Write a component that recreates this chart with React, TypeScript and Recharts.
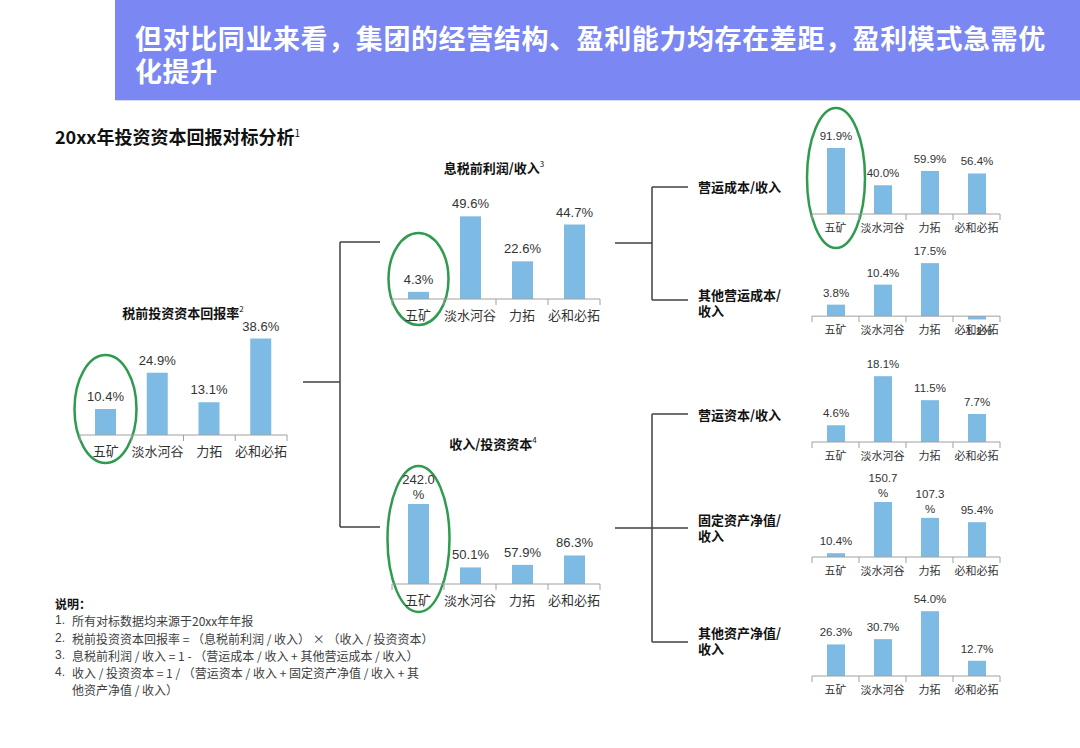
import React from "react";
import { BarChart, Bar, XAxis, YAxis, LabelList, ReferenceLine } from "recharts";

const companies = ["五矿", "淡水河谷", "力拓", "必和必拓"];

// left column
const roicValues = [10.4, 24.9, 13.1, 38.6];
// middle column
const ebitMarginValues = [4.3, 49.6, 22.6, 44.7];
const revenueToCapitalValues = [242.0, 50.1, 57.9, 86.3];
// right column
const opCostValues = [91.9, 40.0, 59.9, 56.4];
const otherOpCostValues = [3.8, 10.4, 17.5, -1.1];
const workingCapitalValues = [4.6, 18.1, 11.5, 7.7];
const fixedAssetValues = [10.4, 150.7, 107.3, 95.4];
const otherAssetValues = [26.3, 30.7, 54.0, 12.7];

const notes = [
  "所有对标数据均来源于20xx年年报",
  "税前投资资本回报率 = （息税前利润 / 收入） × （收入 / 投资资本）",
  "息税前利润 / 收入 = 1 - （营运成本 / 收入 + 其他营运成本 / 收入）",
  "收入 / 投资资本 = 1 / （营运资本 / 收入 + 固定资产净值 / 收入 + 其\n他资产净值 / 收入）",
];

const FONT = '"Liberation Sans", Arial, "Noto Sans CJK SC", sans-serif';
const CJK = '"Noto Sans CJK SC", "Liberation Sans", sans-serif';
const BAR = "#7dbbe4";
const GREEN = "#2e9b4e";
const TEXT = "#333333";
const LINE = "#404040";

const toRows = (values: number[]) =>
  companies.map((name, i) => ({ name, value: values[i] }));

interface MiniProps {
  values: number[];
  x: number;
  baseline: number;
  width: number;
  yMin?: number;
  yMax: number;
  plotH?: number;
  barSize: number;
  small?: boolean;
  ring?: { above: number; below: number; rx: number };
}

function MiniBar({
  values,
  x,
  baseline,
  width,
  yMin = 0,
  yMax,
  plotH = 120,
  barSize,
  small,
  ring,
}: MiniProps) {
  const side = 36;
  const top = 8;
  const axisH = 40;
  const shift = ((0 - yMin) / (yMax - yMin)) * plotH;
  const plotTop = baseline + shift - plotH;
  const zeroY = top + plotH - shift;
  const band = width / values.length;
  const tickFs = small ? 11 : 13;
  const labelFs = small ? 11.5 : 13;
  const tickDy = small ? 18 : 21;

  const renderTick = (p: any) => {
    const { x: tx, y: ty, payload, index } = p;
    const zy = ty - shift;
    return (
      <g>
        <line x1={tx - band / 2} x2={tx - band / 2} y1={zy} y2={zy + 6} stroke="#a0a0a0" />
        {index === values.length - 1 && (
          <line x1={tx + band / 2} x2={tx + band / 2} y1={zy} y2={zy + 6} stroke="#a0a0a0" />
        )}
        <text x={tx} y={zy + tickDy} textAnchor="middle" fontSize={tickFs} fill={TEXT} fontFamily={CJK}>
          {payload.value}
        </text>
      </g>
    );
  };

  const renderShape = (p: any) => {
    const { x: bx, y: by, width: bw, height: bh, index } = p;
    const y0 = Math.min(by, by + bh);
    return (
      <g>
        <rect x={bx} y={y0} width={bw} height={Math.abs(bh)} fill={BAR} />
        {ring && index === 0 && (
          <ellipse
            cx={bx + bw / 2}
            cy={zeroY + (ring.below - ring.above) / 2}
            rx={ring.rx}
            ry={(ring.above + ring.below) / 2}
            fill="none"
            stroke={GREEN}
            strokeWidth={2.5}
          />
        )}
      </g>
    );
  };

  const renderLabel = (p: any) => {
    const vb = p.viewBox || {};
    const lx = p.x ?? vb.x;
    const ly = p.y ?? vb.y;
    const lw = p.width ?? vb.width;
    const lh = p.height ?? vb.height;
    const value = Number(p.value);
    const cx = lx + lw / 2;
    const topY = Math.min(ly, ly + lh);
    const botY = Math.max(ly, ly + lh);
    const common = { textAnchor: "middle" as const, fontSize: labelFs, fill: TEXT, fontFamily: FONT };
    if (value < 0) {
      return (
        <text x={cx} y={botY + 16} {...common}>
          {value.toFixed(1)}%
        </text>
      );
    }
    if (value >= 100) {
      return (
        <text {...common}>
          <tspan x={cx} y={topY - 20}>{value.toFixed(1)}</tspan>
          <tspan x={cx} y={topY - 5}>%</tspan>
        </text>
      );
    }
    return (
      <text x={cx} y={topY - 8} {...common}>
        {value.toFixed(1)}%
      </text>
    );
  };

  return (
    <div style={{ position: "absolute", left: x - side, top: plotTop - top }}>
      <BarChart
        width={width + side * 2}
        height={plotH + top + axisH}
        data={toRows(values)}
        margin={{ top, right: side, bottom: 0, left: side }}
      >
        <XAxis
          dataKey="name"
          axisLine={false}
          tickLine={false}
          tickSize={0}
          tickMargin={0}
          interval={0}
          height={axisH}
          tick={renderTick}
        />
        <YAxis hide domain={[yMin, yMax]} />
        <ReferenceLine y={0} stroke="#a0a0a0" strokeWidth={1} />
        <Bar dataKey="value" barSize={barSize} shape={renderShape} isAnimationActive={false}>
          <LabelList dataKey="value" content={renderLabel} />
        </Bar>
      </BarChart>
    </div>
  );
}

function Heading({ cx, cy, text, sup }: { cx: number; cy: number; text: string; sup: string }) {
  return (
    <div
      style={{
        position: "absolute",
        left: cx,
        top: cy,
        transform: "translate(-50%, -50%)",
        whiteSpace: "nowrap",
        fontFamily: CJK,
        fontWeight: 700,
        fontSize: 13,
        color: "#111",
      }}
    >
      {text}
      <sup style={{ fontSize: 8, fontWeight: 400 }}>{sup}</sup>
    </div>
  );
}

function SideLabel({ top, lines }: { top: number; lines: string[] }) {
  return (
    <div
      style={{
        position: "absolute",
        left: 698,
        top,
        fontFamily: CJK,
        fontWeight: 700,
        fontSize: 13,
        lineHeight: "16px",
        color: "#111",
        whiteSpace: "nowrap",
      }}
    >
      {lines.map((l) => (
        <div key={l}>{l}</div>
      ))}
    </div>
  );
}

export default function App() {
  const connectors: [number, number, number, number][] = [
    [303, 382, 340, 382],
    [340, 242, 340, 527],
    [340, 242, 380, 242],
    [340, 527, 380, 527],
    [615, 243, 652, 243],
    [652, 187, 652, 300],
    [652, 187, 688, 187],
    [652, 300, 688, 300],
    [615, 528, 652, 528],
    [652, 414, 652, 642],
    [652, 414, 688, 414],
    [652, 528, 688, 528],
    [652, 642, 688, 642],
  ];

  return (
    <div
      style={{
        position: "absolute",
        left: 0,
        top: 0,
        width: 1080,
        height: 748,
        background: "#fff",
        overflow: "hidden",
        fontFamily: FONT,
      }}
    >
      <div
        style={{
          position: "absolute",
          left: 115,
          top: 0,
          width: 965,
          height: 100,
          background: "#7b87f3",
          borderBottom: "1px solid #d6daf5",
        }}
      >
        <div
          style={{
            position: "absolute",
            left: 20,
            top: 21,
            color: "#fff",
            fontFamily: CJK,
            fontWeight: 700,
            fontSize: 27,
            lineHeight: "33px",
            letterSpacing: 0.6,
            whiteSpace: "nowrap",
          }}
        >
          但对比同业来看，集团的经营结构、盈利能力均存在差距，盈利模式急需优
          <br />
          化提升
        </div>
      </div>

      <div
        style={{
          position: "absolute",
          left: 55,
          top: 121,
          fontFamily: CJK,
          fontWeight: 700,
          fontSize: 18,
          lineHeight: "24px",
          color: "#111",
          whiteSpace: "nowrap",
        }}
      >
        20xx年投资资本回报对标分析<sup style={{ fontSize: 10, fontWeight: 400 }}>1</sup>
      </div>

      <svg width={1080} height={748} style={{ position: "absolute", left: 0, top: 0 }}>
        {connectors.map(([x1, y1, x2, y2], i) => (
          <line key={i} x1={x1} y1={y1} x2={x2} y2={y2} stroke={LINE} strokeWidth={1.5} />
        ))}
      </svg>

      <Heading cx={183} cy={312} text="税前投资资本回报率" sup="2" />
      <Heading cx={494} cy={167} text="息税前利润/收入" sup="3" />
      <Heading cx={493} cy={443} text="收入/投资资本" sup="4" />

      <MiniBar values={roicValues} x={80} baseline={435} width={207} yMax={48} barSize={21}
        ring={{ above: 80, below: 28, rx: 31 }} />
      <MiniBar values={ebitMarginValues} x={392} baseline={299} width={208} yMax={72} barSize={21}
        ring={{ above: 66, below: 26, rx: 30 }} />
      <MiniBar values={revenueToCapitalValues} x={392} baseline={584} width={208} yMax={363} barSize={21}
        ring={{ above: 118, below: 28, rx: 31 }} />

      <SideLabel top={179} lines={["营运成本/收入"]} />
      <SideLabel top={287} lines={["其他营运成本/", "收入"]} />
      <SideLabel top={407} lines={["营运资本/收入"]} />
      <SideLabel top={512} lines={["固定资产净值/", "收入"]} />
      <SideLabel top={625} lines={["其他资产净值/", "收入"]} />

      <MiniBar values={opCostValues} x={812} baseline={214} width={188} yMax={167} barSize={18} small
        ring={{ above: 106, below: 34, rx: 29 }} />
      <MiniBar values={otherOpCostValues} x={812} baseline={316} width={188} yMin={-1.6} yMax={38}
        barSize={18} small />
      <MiniBar values={workingCapitalValues} x={812} baseline={442} width={188} yMax={33} barSize={18} small />
      <MiniBar values={fixedAssetValues} x={812} baseline={557} width={188} yMax={329} barSize={18} small />
      <MiniBar values={otherAssetValues} x={812} baseline={676} width={188} yMax={100} barSize={18} small />

      <div
        style={{
          position: "absolute",
          left: 55,
          top: 595,
          fontFamily: CJK,
          fontSize: 12,
          lineHeight: "17.3px",
          color: "#404040",
          whiteSpace: "nowrap",
        }}
      >
        <div style={{ fontWeight: 700, color: "#111" }}>说明：</div>
        {notes.map((n, i) => (
          <div key={i} style={{ display: "flex" }}>
            <span style={{ width: 17, fontFamily: FONT }}>{i + 1}.</span>
            <span>
              {n.split("\n").map((part, j) => (
                <div key={j}>{part}</div>
              ))}
            </span>
          </div>
        ))}
      </div>
    </div>
  );
}
